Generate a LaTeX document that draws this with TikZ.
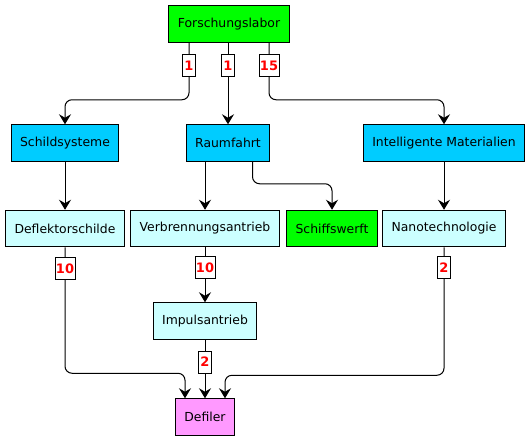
\documentclass[tikz,border=0pt]{standalone}
\usepackage{fontspec}
\setmainfont{DejaVu Sans}
\usetikzlibrary{arrows.meta}

\definecolor{labgreen}{RGB}{0,255,0}
\definecolor{fieldblue}{RGB}{0,204,255}
\definecolor{techcyan}{RGB}{204,255,255}
\definecolor{goalpink}{RGB}{255,153,255}
\definecolor{numred}{RGB}{255,0,0}

\begin{document}
\begin{tikzpicture}[x=1pt,y=-1pt,
    box/.style={draw=black,line width=1pt,inner xsep=9pt,minimum height=36.5pt,
        font=\fontsize{12.4}{14}\selectfont},
    num/.style={draw=black,fill=white,sharp corners,line width=0.9pt,inner xsep=1pt,inner ysep=0pt,
        minimum height=22pt,minimum width=13pt,text=numred,font=\fontsize{13}{14}\selectfont\bfseries},
    arr/.style={-{Stealth[length=10pt,width=12pt,inset=3.5pt]},line width=1pt,rounded corners=7pt}]
    \useasboundingbox (0,0) rectangle (532,442);

    % Top
    \node[box,fill=labgreen] (forsch) at (229,24) {Forschungslabor};

    % Fields
    \node[box,fill=fieldblue] (schild) at (65,143) {Schildsysteme};
    \node[box,fill=fieldblue] (raum) at (228,143) {Raumfahrt};
    \node[box,fill=fieldblue] (intel) at (444,143) {Intelligente Materialien};

    % Technologies
    \node[box,fill=techcyan] (defl) at (65,228.5) {Deflektorschilde};
    \node[box,fill=techcyan] (verb) at (205,228.5) {Verbrennungsantrieb};
    \node[box,fill=labgreen] (schiff) at (332,228.5) {Schiffswerft};
    \node[box,fill=techcyan] (nano) at (444,228.5) {Nanotechnologie};
    \node[box,fill=techcyan] (impuls) at (205,321) {Impulsantrieb};

    % Goal
    \node[box,fill=goalpink] (defiler) at (205,417) {Defiler};

    % Arrows from the lab
    \draw[arr] ([xshift=-40pt]forsch.south) -- node[num,pos=0.4]{1} ++(0,57) -| (schild.north);
    \draw[arr] (forsch.south -| raum.north) -- node[num,pos=0.28]{1} (raum.north);
    \draw[arr] ([xshift=40pt]forsch.south) -- node[num,pos=0.4]{15} ++(0,57) -| (intel.north);

    % Arrows to the technologies
    \draw[arr] (schild) -- (defl);
    \draw[arr] (raum.south -| verb.north) -- (verb.north);
    \draw[arr] ([xshift=24.5pt]raum.south) -- ++(0,22) -| (schiff.north);
    \draw[arr] (intel) -- (nano);
    \draw[arr] (verb) -- node[num,pos=0.375]{10} (impuls);

    % Arrows to the goal
    \draw[arr] (defl.south) -- node[num,pos=0.17]{10} ++(0,126) -| ([xshift=-20pt]defiler.north);
    \draw[arr] (impuls) -- node[num,pos=0.38]{2} (defiler);
    \draw[arr] (nano.south) -- node[num,pos=0.16]{2} ++(0,128) -| ([xshift=20pt]defiler.north);
\end{tikzpicture}
\end{document}
